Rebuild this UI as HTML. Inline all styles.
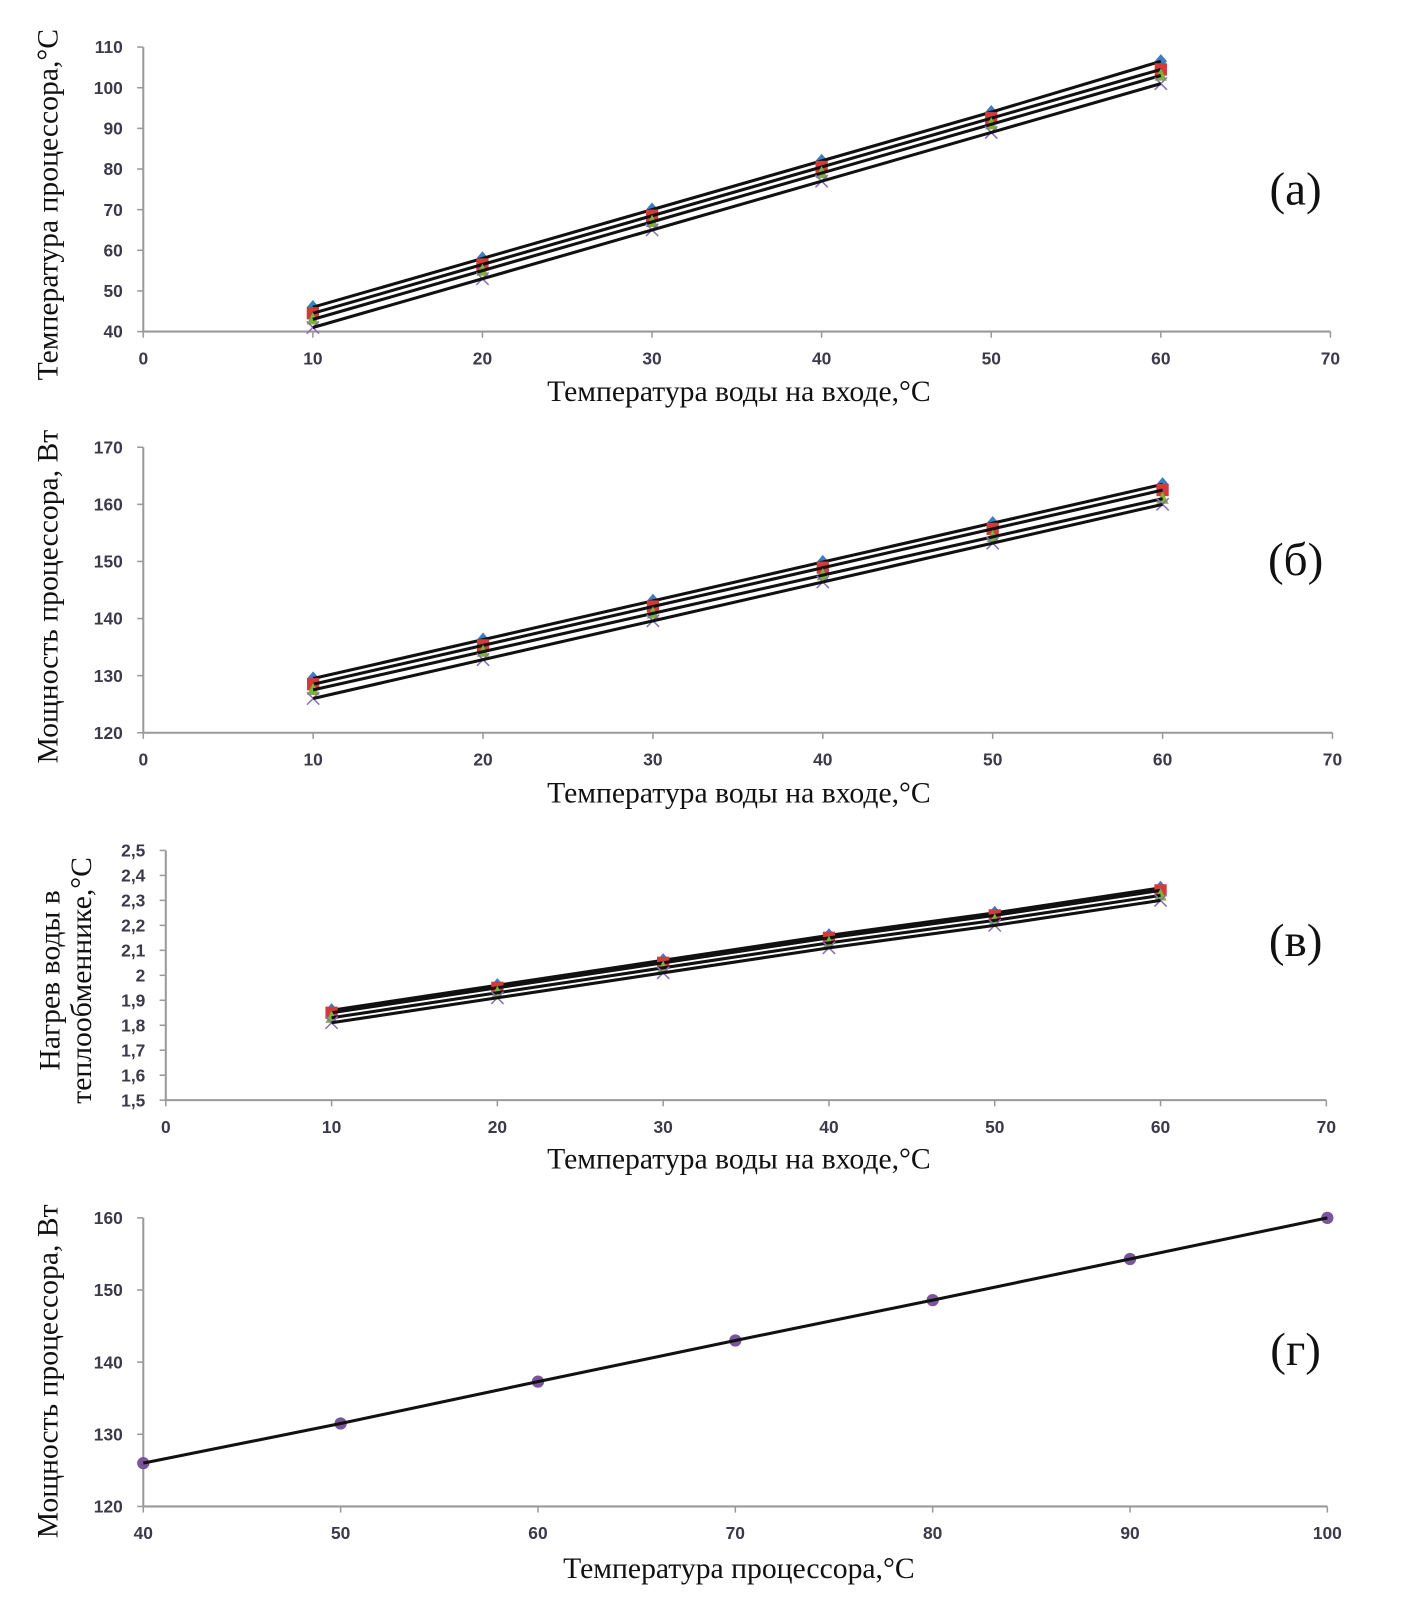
<!DOCTYPE html>
<html><head><meta charset="utf-8"><style>
html,body{margin:0;padding:0;background:#fff;}
svg{display:block}
.tick{font-family:"Liberation Sans",sans-serif;font-weight:bold;font-size:17px;fill:#3b3a4a}
.title{font-family:"Liberation Serif","Noto Serif CJK SC",serif;font-size:29px;fill:#111}
.tag{font-family:"Liberation Serif",serif;font-size:46px;fill:#111}
</style></head><body>
<svg id="fig" width="1402" height="1603" viewBox="0 0 1402 1603" xmlns="http://www.w3.org/2000/svg"><g id="root" transform="scale(1.0234)"></g></svg>
<script>
const xCats=[10,20,30,40,50,60];
const aS1=[46,58,70,82,94,106.5];
const aS2=[44.5,56.5,68.5,80.5,92.5,104.5];
const aS3=[43,55,67,79,91,103];
const aS4=[41,53,65,77,89,101];
const bS1=[129.5,136.3,143.1,149.9,156.7,163.5];
const bS2=[128.5,135.3,142.1,148.9,155.7,162.5];
const bS3=[127.5,134.2,140.9,147.6,154.3,161];
const bS4=[126,132.8,139.6,146.4,153.2,160];
const cS1=[1.86,1.96,2.06,2.16,2.25,2.35];
const cS2=[1.85,1.95,2.05,2.15,2.24,2.34];
const cS3=[1.83,1.93,2.03,2.13,2.22,2.32];
const cS4=[1.81,1.91,2.01,2.11,2.20,2.30];
const dX=[40,50,60,70,80,90,100];
const dY=[126,131.5,137.3,143,148.6,154.3,160];
const aYT=[40,50,60,70,80,90,100,110];
const bYT=[120,130,140,150,160,170];
const cYT=["1,5","1,6","1,7","1,8","1,9","2","2,1","2,2","2,3","2,4","2,5"];
const xT=[0,10,20,30,40,50,60,70];
const dXT=[40,50,60,70,80,90,100];
const dYT=[120,130,140,150,160];

const NS="http://www.w3.org/2000/svg";
const svg=document.getElementById('root');
function mk(tag,attrs,parent,text){const e=document.createElementNS(NS,tag);for(const k in attrs)e.setAttribute(k,attrs[k]);if(text!==undefined)e.textContent=text;(parent||svg).appendChild(e);return e;}

function chart(cfg){
  const g=mk('g',{});
  
  
  const sx=v=>cfg.x0+(v-cfg.xmin)/(cfg.xmax-cfg.xmin)*(cfg.x1-cfg.x0);
  const sy=v=>cfg.y0-(v-cfg.ymin)/(cfg.ymax-cfg.ymin)*(cfg.y0-cfg.y1);
  const ax=mk('path',{d:`M${cfg.x0} ${cfg.y1}V${cfg.y0}H${cfg.x1}`,stroke:'#9a9a9a','stroke-width':2,fill:'none'},g);
  
  
  cfg.yt.forEach((t,i)=>{
    const v=cfg.ymin+i*cfg.ystep; const y=sy(v);
    mk('line',{x1:cfg.x0-6,x2:cfg.x0,y1:y,y2:y,stroke:'#9a9a9a','stroke-width':1.5},g);
    const tx=mk('text',{x:cfg.x0-20,y:y+6,'text-anchor':'end',class:'tick'},g,t);
    
    
  });
  cfg.xt.forEach(t=>{
    const x=sx(t);
    mk('line',{x1:x,x2:x,y1:cfg.y0,y2:cfg.y0+6,stroke:'#9a9a9a','stroke-width':1.5},g);
    const tx=mk('text',{x:x,y:cfg.y0+32,'text-anchor':'middle',class:'tick'},g,t);
    
    
  });
  const markers=['diamond','square','triangle','cross'];
  const cols=['#3a7fc1','#d23b3b','#7fb23a','#8a6fb8'];
  cfg.series.forEach((s,si)=>{
    const xs=cfg.xs;
    const pts=xs.map((x,i)=>sx(x)+','+sy(s[i])).join(' ');
    const mkType=cfg.single?'circle':markers[si];
    s.forEach((v,i)=>{
      const x=sx(xs[i]),y=sy(v);let m;
      if(mkType==='circle')m=mk('circle',{cx:x,cy:y,r:6,fill:'#7a559a'},g);
      else if(mkType==='diamond')m=mk('polygon',{points:`${x},${y-7} ${x+6},${y} ${x},${y+7} ${x-6},${y}`,fill:cols[0]},g);
      else if(mkType==='square')m=mk('rect',{x:x-6,y:y-6,width:12,height:12,fill:cols[1]},g);
      else if(mkType==='triangle')m=mk('polygon',{points:`${x},${y-7} ${x+6},${y+5} ${x-6},${y+5}`,fill:cols[2]},g);
      else m=mk('path',{d:`M${x-6} ${y-6}L${x+6} ${y+6}M${x+6} ${y-6}L${x-6} ${y+6}`,stroke:cols[3],'stroke-width':1.5},g);
      
      
    });
    const pl=mk('polyline',{points:pts,fill:'none',stroke:'#111','stroke-width':3},g);
    
    
  });
  const xt=mk('text',{x:cfg.xtx,y:cfg.xty,'text-anchor':'middle',class:'title'},g,cfg.xtitle);
  
  
  cfg.ytitle.forEach((l,i)=>{
    const yt=mk('text',{x:0,y:0,'text-anchor':'middle',class:'title',transform:`translate(${cfg.ytx+i*31},${cfg.yty}) rotate(-90)`},g,l);
    
    
  });
  const tg=mk('text',{x:cfg.tagx,y:cfg.tagy,'text-anchor':'middle',class:'tag'},g,cfg.tag);
  
  
}
chart({name:'chart-a',x0:140,x1:1300,y0:324,y1:46,xmin:0,xmax:70,ymin:40,ymax:110,ystep:10,yt:aYT,xt:xT,xs:xCats,
 series:[aS1,aS2,aS3,aS4],xtitle:'Температура воды на входе,°С',xtx:722,xty:392,ytitle:['Температура процессора,°С'],ytx:56,yty:200,tag:'(а)',tagx:1266,tagy:200});
chart({name:'chart-b',x0:140,x1:1302,y0:716,y1:437,xmin:0,xmax:70,ymin:120,ymax:170,ystep:10,yt:bYT,xt:xT,xs:xCats,
 series:[bS1,bS2,bS3,bS4],xtitle:'Температура воды на входе,°С',xtx:722,xty:784,ytitle:['Мощность процессора, Вт'],ytx:56,yty:583,tag:'(б)',tagx:1266,tagy:562});
chart({name:'chart-c',x0:162,x1:1296,y0:1075,y1:831,xmin:0,xmax:70,ymin:1.5,ymax:2.5,ystep:0.1,yt:cYT,xt:xT,xs:xCats,
 series:[cS1,cS2,cS3,cS4],xtitle:'Температура воды на входе,°С',xtx:722,xty:1142,ytitle:['Нагрев воды в','теплообменнике,°С'],ytx:58,yty:958,tag:'(в)',tagx:1266,tagy:934});
chart({name:'chart-d',x0:140,x1:1297,y0:1472,y1:1190,xmin:40,xmax:100,ymin:120,ymax:160,ystep:10,yt:dYT,xt:dXT,xs:dX,single:true,
 series:[dY],xtitle:'Температура процессора,°С',xtx:722,xty:1542,ytitle:['Мощность процессора, Вт'],ytx:56,yty:1340,tag:'(г)',tagx:1266,tagy:1334});
</script>
</body></html>
